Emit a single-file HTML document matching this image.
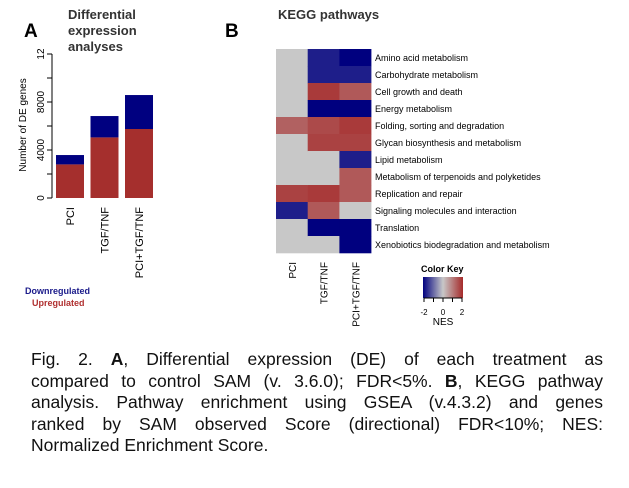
<!DOCTYPE html>
<html><head><meta charset="utf-8"><style>
body{margin:0;width:629px;height:488px;background:#fff;font-family:"Liberation Sans",sans-serif;overflow:hidden;position:relative}
svg{position:absolute;left:0;top:0}
#cap{position:absolute;left:31px;top:349px;width:572px;font-size:17.5px;line-height:21.5px;color:#111}
#cap div{text-align:justify;text-align-last:justify;white-space:nowrap}
#cap div.last{text-align-last:left}
</style></head><body>
<svg width="629" height="340">
<defs><linearGradient id="ckgrad" x1="0" x2="1"><stop offset="0" stop-color="#00007f"/><stop offset="0.5" stop-color="#c8c8c8"/><stop offset="1" stop-color="#a52a2a"/></linearGradient></defs>
<g id="bars"></g>
<g id="heat"></g>
<text x="24" y="37" font-size="19" font-weight="bold">A</text>
<text x="68" y="19" font-size="13" font-weight="bold" fill="#333"><tspan x="68">Differential</tspan><tspan x="68" dy="16">expression</tspan><tspan x="68" dy="16">analyses</tspan></text>
<text x="225" y="37" font-size="19" font-weight="bold">B</text>
<text x="278" y="19" font-size="13" font-weight="bold" fill="#333">KEGG pathways</text>
<text x="25" y="294" font-size="9" font-weight="bold" fill="#1a1a8a">Downregulated</text>
<text x="32" y="306" font-size="9" font-weight="bold" fill="#b03030">Upregulated</text>
<text x="421" y="272" font-size="9" font-weight="bold">Color Key</text>
<rect x="423" y="277" width="40" height="21" fill="url(#ckgrad)"/>
<g id="ckaxis"></g>
<text x="443" y="325" font-size="10" text-anchor="middle">NES</text>
</svg>
<div id="cap">
<div>Fig. 2. <b>A</b>, Differential expression (DE) of each treatment as</div>
<div>compared to control SAM (v. 3.6.0); FDR&lt;5%. <b>B</b>, KEGG pathway</div>
<div>analysis. Pathway enrichment using GSEA (v.4.3.2) and genes</div>
<div>ranked by SAM observed Score (directional) FDR&lt;10%; NES:</div>
<div class="last">Normalized Enrichment Score.</div>
</div>
<script>
const NS="http://www.w3.org/2000/svg";
function mk(p,t,a,txt){const e=document.createElementNS(NS,t);for(const k in a)e.setAttribute(k,a[k]);if(txt!=null)e.textContent=txt;p.appendChild(e);return e;}
// Bar chart data
const barCats=["PCI","TGF/TNF","PCI+TGF/TNF"];
const upVals=[2800,5050,5750];
const downVals=[780,1780,2830];
const yTicks=[0,4000,8000,12000];
const yTickLabels=["0","4000","8000","12"];
const bars=document.getElementById('bars');
const y0=198,ppu=0.012,bx0=56,bstep=34.5,bw=28;
const Y=v=>y0-v*ppu;
mk(bars,'line',{x1:52,x2:52,y1:Y(0),y2:Y(12000),stroke:'#000'});
[0,2000,4000,6000,8000,10000,12000].forEach(v=>mk(bars,'line',{x1:47,x2:52,y1:Y(v),y2:Y(v),stroke:'#000'}));
yTicks.forEach((v,i)=>{const t=mk(bars,'text',{x:0,y:0,'font-size':10,'text-anchor':'middle',transform:`translate(44,${Y(v)}) rotate(-90)`},yTickLabels[i]);

});
{const t=mk(bars,'text',{'font-size':10,'text-anchor':'middle',transform:`translate(26,125) rotate(-90)`},"Number of DE genes");

}
barCats.forEach((c,i)=>{const x=bx0+i*bstep;
const r1=mk(bars,'rect',{x:x,y:Y(upVals[i]),width:bw,height:upVals[i]*ppu,fill:'#a52f2d'});


const r2=mk(bars,'rect',{x:x,y:Y(upVals[i]+downVals[i]),width:bw,height:downVals[i]*ppu,fill:'#000080'});


const t=mk(bars,'text',{'font-size':11,'text-anchor':'end',transform:`translate(${x+bw/2+4},207) rotate(-90)`},c);

});
// Heatmap data (null = NA)
const hmCols=["PCI","TGF/TNF","PCI+TGF/TNF"];
const hmRows=["Amino acid metabolism","Carbohydrate metabolism","Cell growth and death","Energy metabolism","Folding, sorting and degradation","Glycan biosynthesis and metabolism","Lipid metabolism","Metabolism of terpenoids and polyketides","Replication and repair","Signaling molecules and interaction","Translation","Xenobiotics biodegradation and metabolism"];
const colPCI=[null,null,null,null,1.3,null,null,null,1.7,-1.7,null,null];
const colTGF=[-1.7,-1.7,1.8,-2,1.6,1.7,null,null,1.8,1.4,-2,null];
const colBoth=[-2,-1.7,1.4,-2,1.8,1.7,-1.7,1.4,1.4,null,-2,-2];
const ckTicks=[-2,-1,0,1,2];
const ckLabels=["-2","0","2"];
const ckLabelVals=[-2,0,2];
function col(v){if(v==null)return '#c8c8c8';const t=Math.max(-1,Math.min(1,v/2));
const g=[200,200,200],b=[0,0,127],r=[165,42,42];const e=t<0?b:r,a=Math.abs(t);
return `rgb(${g.map((c,i)=>Math.round(c+(e[i]-c)*a)).join(',')})`;}
const heat=document.getElementById('heat');
const hx0=276,cw=31.7,hy0=49,rh=17;
[colPCI,colTGF,colBoth].forEach((cv,j)=>{cv.forEach((v,i)=>{
const r=mk(heat,'rect',{x:hx0+j*cw,y:hy0+i*rh,width:cw+0.3,height:rh+0.3,fill:col(v)});

});
const t=mk(heat,'text',{'font-size':10,'text-anchor':'end',transform:`translate(${hx0+j*cw+cw/2+4},262) rotate(-90)`},hmCols[j]);

});
hmRows.forEach((n,i)=>{const t=mk(heat,'text',{x:375,y:hy0+i*rh+rh/2+3.5,'font-size':9},n);

});
const ckg=document.getElementById('ckaxis');const CX=v=>443+v*9.5;
ckTicks.forEach(v=>mk(ckg,'line',{x1:CX(v),x2:CX(v),y1:298,y2:302,stroke:'#000'}));
mk(ckg,'line',{x1:CX(-2),x2:CX(2),y1:298,y2:298,stroke:'#000'});
ckLabelVals.forEach((v,i)=>{const t=mk(ckg,'text',{x:CX(v),y:315,'font-size':8,'text-anchor':'middle'},ckLabels[i]);

});
</script>
</body></html>
